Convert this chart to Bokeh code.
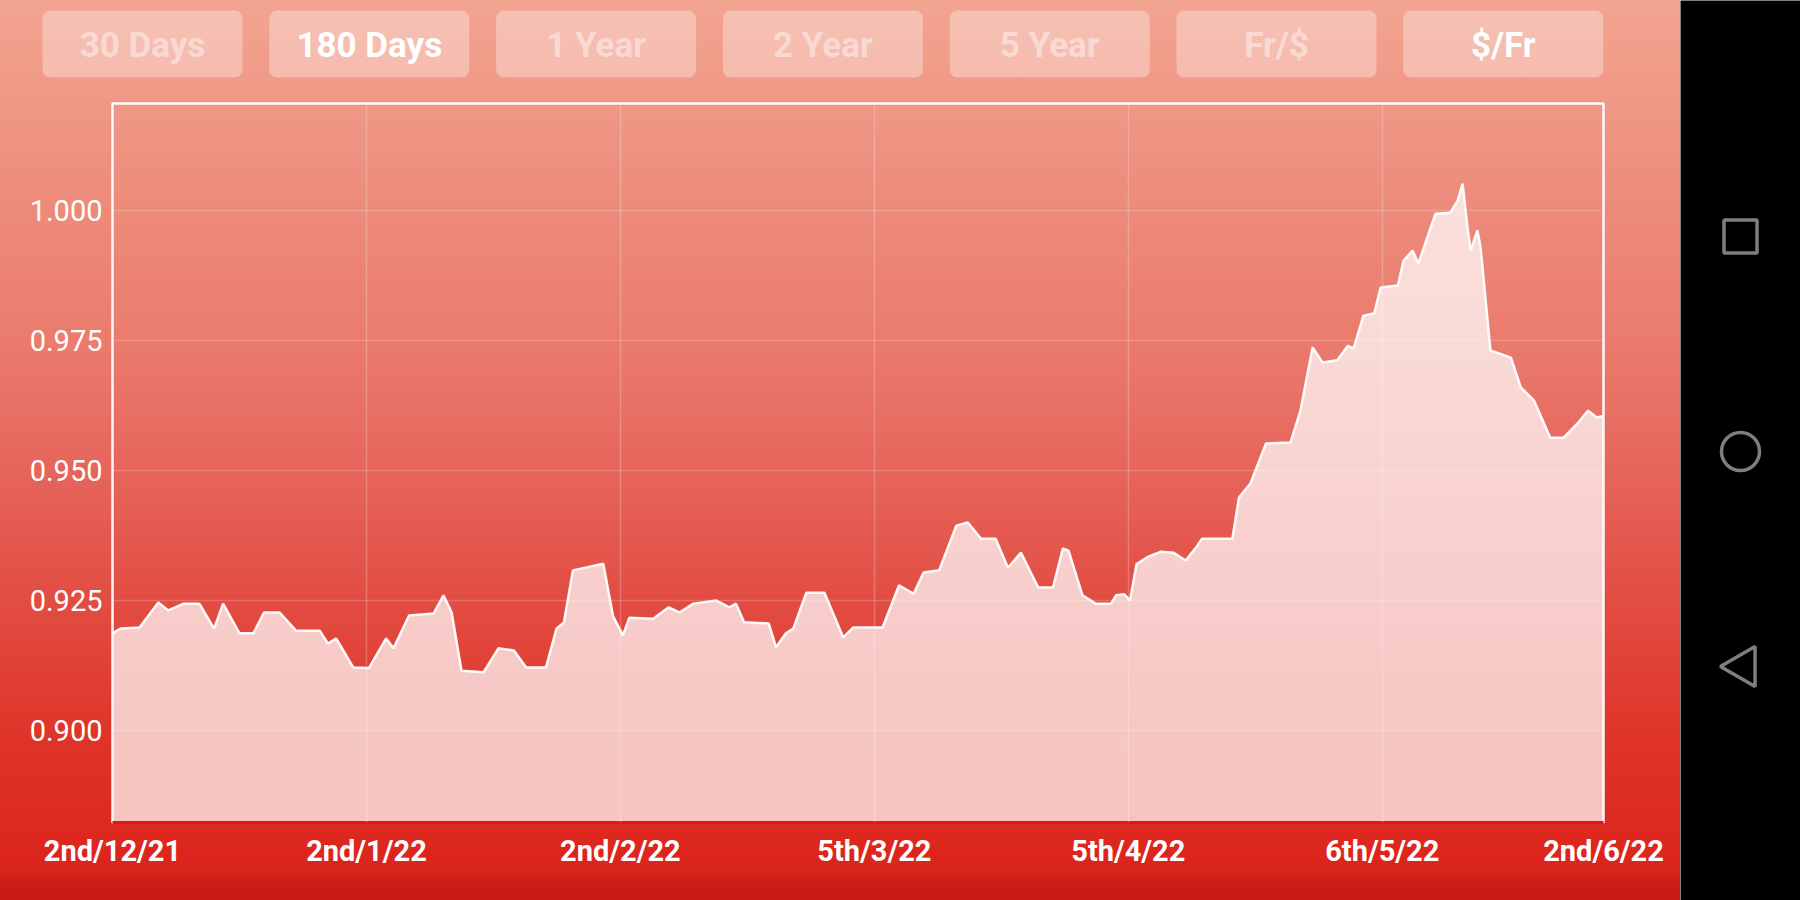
import math
from bokeh.plotting import figure
from bokeh.layouts import row, column
from bokeh.models import (FixedTicker, NumeralTickFormatter, BoxAnnotation,
                          Label, Range1d)
from bokeh.embed import file_html
from bokeh.resources import INLINE

# ---------------- data ----------------
days = [0, 1, 3.3, 5.6, 6.8, 8.7, 10.6, 12.4, 13.5, 15.5, 17.2, 18.5, 20.4,
        22.4, 25.3, 26.3, 27.3, 29.4, 31.3, 33.4, 34.3, 36.2, 39.2, 40.4,
        41.4, 42.6, 45.3, 47.1, 49.0, 50.5, 52.9, 54.2, 55.1, 56.2, 59.9,
        61.1, 62.3, 63.1, 66.0, 67.9, 69.2, 70.9, 73.7, 75.3, 76.1, 77.1,
        80.1, 81.0, 82.2, 83.1, 84.7, 86.9, 89.2, 90.4, 94.0, 96.0, 97.8,
        99.0, 100.9, 103.0, 104.4, 106.0, 107.8, 109.3, 110.9, 113.0, 114.8,
        116.0, 116.7, 118.4, 120.0, 121.9, 122.5, 123.5, 124.2, 125.0, 126.5,
        128.0, 129.5, 131.0, 132.4, 133.0, 136.7, 137.5, 138.9, 140.8, 143.8,
        145.0, 146.5, 147.7, 149.5, 150.8, 151.5, 152.7, 154.0, 154.8, 156.9,
        157.6, 158.7, 159.4, 160.9, 161.5, 163.3, 164.2, 164.8, 165.4, 165.8,
        166.6, 167.0, 168.2, 170.7, 171.9, 173.5, 175.5, 177.1, 178.8, 180.1,
        181.2, 182.0]
rates = [0.9187, 0.9196, 0.9198, 0.9246, 0.9231, 0.9244, 0.9244, 0.9196,
         0.9244, 0.9187, 0.9187, 0.9227, 0.9227, 0.9192, 0.9192, 0.9167,
         0.9177, 0.9121, 0.9120, 0.9177, 0.9158, 0.9221, 0.9225, 0.9260,
         0.9227, 0.9115, 0.9112, 0.9158, 0.9154, 0.9121, 0.9121, 0.9196,
         0.9208, 0.9308, 0.9321, 0.9220, 0.9183, 0.9217, 0.9215, 0.9237,
         0.9227, 0.9244, 0.9250, 0.9237, 0.9244, 0.9208, 0.9206, 0.9160,
         0.9187, 0.9196, 0.9265, 0.9265, 0.9179, 0.9198, 0.9198, 0.9279,
         0.9263, 0.9304, 0.9308, 0.9394, 0.9400, 0.9369, 0.9369, 0.9313,
         0.9342, 0.9275, 0.9275, 0.9350, 0.9346, 0.9260, 0.9244, 0.9244,
         0.9260, 0.9262, 0.9250, 0.9320, 0.9335, 0.9344, 0.9342, 0.9327,
         0.9355, 0.9369, 0.9369, 0.9448, 0.9475, 0.9552, 0.9554, 0.9615,
         0.9737, 0.9708, 0.9712, 0.9740, 0.9735, 0.9798, 0.9802, 0.9852,
         0.9856, 0.9904, 0.9923, 0.9898, 0.9967, 0.9994, 0.9996, 1.0019,
         1.0052, 0.9967, 0.9923, 0.9962, 0.9929, 0.9731, 0.9717, 0.9660,
         0.9635, 0.9563, 0.9563, 0.9590, 0.9615, 0.9602, 0.9605]

tick_days = [0, 31, 62, 93, 124, 155, 182]
tick_labels = ["2nd/12/21", "2nd/1/22", "2nd/2/22", "5th/3/22",
               "5th/4/22", "6th/5/22", "2nd/6/22"]
y_ticks = [0.900, 0.925, 0.950, 0.975, 1.000]
buttons = ["30 Days", "180 Days", "1 Year", "2 Year", "5 Year", "Fr/$", "$/Fr"]
active = [False, True, False, False, False, False, True]

# ---------------- layout ----------------
TOTAL_H = 900
APP_W, NAV_W = 1680, 120
TOP_H = 100
MAIN_H = TOTAL_H - TOP_H
F_LEFT, F_RIGHT, F_TOP, F_BOTTOM = 112, 1603, 103, 822

grad = ("linear-gradient(to bottom, #F2A590 0%, #EF9886 11%, #EA7B6D 38%, "
        "#E6645A 53%, #E24C42 67%, #DF3429 82%, #DC261D 95%, #D8231B 97.3%, "
        "#CB1C15 97.8%, #C81B14 100%)")


def grad_style(offset):
    return {"background-image": grad,
            "background-size": f"{APP_W}px {TOTAL_H}px",
            "background-position": f"0px {-offset}px",
            "background-repeat": "no-repeat"}


# ---- top bar with the period buttons ----
top = figure(width=APP_W, height=TOP_H, output_backend="svg",
             toolbar_location=None, x_range=Range1d(0, APP_W),
             y_range=Range1d(TOP_H, 0), min_border=0,
             x_axis_location=None, y_axis_location=None,
             background_fill_color=None, border_fill_color=None,
             outline_line_color=None)
top.grid.visible = False
top.frame_align = False
top.styles = grad_style(0)

b_left0, b_step, b_w = 42, 226.8, 200
for i, (txt, act) in enumerate(zip(buttons, active)):
    l = b_left0 + i * b_step
    top.add_layout(BoxAnnotation(left=l, right=l + b_w, top=10, bottom=77,
                                 fill_color="white", fill_alpha=0.32,
                                 line_color=None, border_radius=8,
                                 editable=False))
    top.add_layout(Label(x=l + b_w / 2, y=45, text=txt, text_align="center",
                         text_baseline="middle", text_color="white",
                         text_alpha=1.0 if act else 0.45,
                         text_font="Roboto", text_font_size="35px",
                         text_font_style="bold"))

# ---- main chart ----
p = figure(width=APP_W, height=MAIN_H, output_backend="svg",
           toolbar_location=None,
           x_range=Range1d(0, 182), y_range=Range1d(0.8823, 1.0206),
           min_border_left=F_LEFT, min_border_right=APP_W - F_RIGHT,
           min_border_top=F_TOP - TOP_H, min_border_bottom=TOTAL_H - F_BOTTOM,
           background_fill_color=None, border_fill_color=None,
           outline_line_color="white", outline_line_width=2.5,
           outline_line_alpha=0.95)
p.frame_align = False
p.styles = grad_style(TOP_H)

p.varea(x=days, y1=0.85, y2=rates, fill_color="white", fill_alpha=0.72)
p.line(days, rates, line_color="white", line_width=2.5, line_alpha=0.95)

p.xaxis.ticker = FixedTicker(ticks=tick_days)
p.xaxis.major_label_overrides = {d: l for d, l in zip(tick_days, tick_labels)}
p.yaxis.ticker = FixedTicker(ticks=y_ticks)
p.yaxis.formatter = NumeralTickFormatter(format="0.000")
for ax in (p.xaxis, p.yaxis):
    ax.major_tick_line_color = None
    ax.minor_tick_line_color = None
    ax.major_tick_out = 0
    ax.major_tick_in = 0
    ax.major_label_text_color = "white"
    ax.major_label_text_font = "Roboto"
    ax.major_label_text_font_size = "29px"
p.yaxis.axis_line_color = None
p.yaxis.major_label_standoff = 10
p.xaxis.axis_line_color = "#E0161A"
p.xaxis.axis_line_width = 3
p.xaxis.major_label_standoff = 11
p.xaxis.major_label_text_font_style = "bold"

p.grid.grid_line_color = "white"
p.xgrid.grid_line_alpha = 0.22
p.ygrid.grid_line_alpha = 0.18
p.grid.grid_line_width = 1.5
p.xgrid.level = "overlay"

# ---- android navigation bar ----
nav = figure(width=NAV_W, height=TOTAL_H, output_backend="svg",
             toolbar_location=None, x_range=Range1d(0, NAV_W),
             y_range=Range1d(TOTAL_H, 0), min_border=0,
             x_axis_location=None, y_axis_location=None,
             background_fill_color="black", border_fill_color="black",
             outline_line_color=None)
nav.grid.visible = False
nav.frame_align = False
icon_col = "#7E7E7E"
nav.scatter(x=[60], y=[236], marker="square", size=33, fill_color=None,
            line_color=icon_col, line_width=3.5)
nav.scatter(x=[60], y=[451], marker="circle", size=38, fill_color=None,
            line_color=icon_col, line_width=3.5)
nav.scatter(x=[63], y=[666], marker="triangle", size=40, angle=math.pi / 2,
            fill_color=None, line_color=icon_col, line_width=3.5)

layout = row(column(top, p, spacing=0), nav, spacing=0)

open("out.html", "w").write(file_html(layout, INLINE))
